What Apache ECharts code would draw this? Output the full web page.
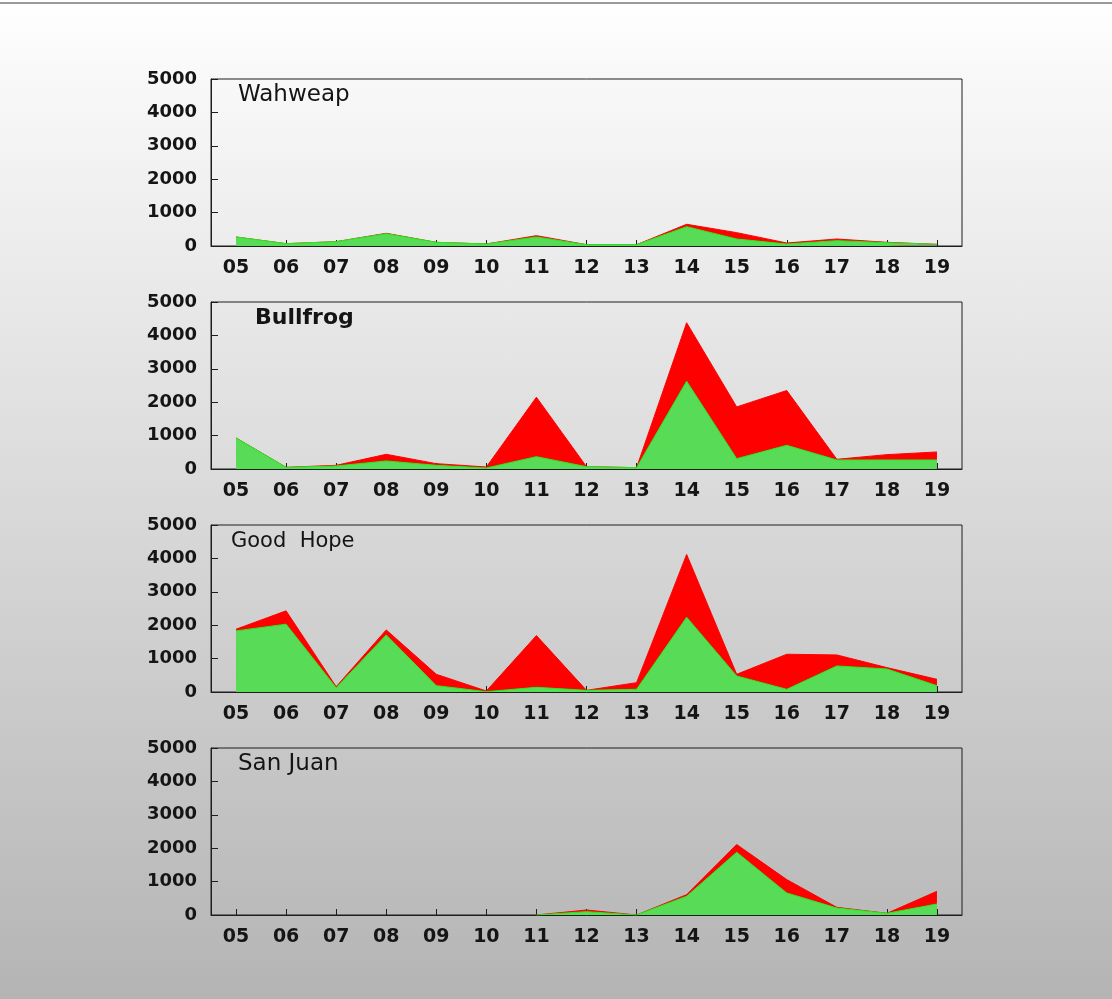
<!DOCTYPE html>
<html>
<head>
<meta charset="utf-8">
<script src="https://cdn.jsdelivr.net/npm/echarts@6/dist/echarts.min.js"></script>
<style>
  html, body { margin: 0; padding: 0; }
  body {
    width: 1112px; height: 999px; overflow: hidden;
    background: linear-gradient(to bottom, #ffffff 0px, #fbfbfb 40px, #e6e6e6 330px, #d2d2d2 600px, #b4b4b4 999px);
  }
  #topline { position: absolute; left: 0; top: 2px; width: 1112px; height: 2px; background: #9a9a9a; }
  #chart { position: absolute; left: 0; top: 0; width: 1112px; height: 999px; }
</style>
</head>
<body>
<div id="topline"></div>
<div id="chart"></div>
<script>
// ---- data ----
const categories = ['05','06','07','08','09','10','11','12','13','14','15','16','17','18','19'];
const yTicks = [0, 1000, 2000, 3000, 4000, 5000];
const panelNames = ['Wahweap', 'Bullfrog', 'Good  Hope', 'San Juan'];

// green = lower (green) area, total = top of red area
const wahweapGreen = [270, 70, 130, 370, 110, 60, 270, 40, 40, 580, 210, 60, 160, 100, 50];
const wahweapTotal = [270, 70, 130, 380, 110, 60, 310, 40, 40, 650, 400, 90, 210, 110, 50];

const bullfrogGreen = [930, 50, 90, 240, 110, 30, 370, 70, 40, 2630, 310, 710, 270, 270, 270];
const bullfrogTotal = [930, 50, 110, 440, 160, 60, 2150, 70, 40, 4380, 1860, 2350, 290, 430, 510];

const goodHopeGreen = [1830, 2030, 130, 1710, 190, 10, 140, 50, 80, 2240, 480, 80, 780, 690, 190];
const goodHopeTotal = [1880, 2430, 160, 1860, 530, 30, 1690, 50, 280, 4120, 530, 1130, 1110, 730, 380];

const sanJuanGreen = [null, null, null, null, null, null, 0, 100, 0, 560, 1880, 660, 210, 50, 330];
const sanJuanTotal = [null, null, null, null, null, null, 0, 150, 0, 610, 2110, 1060, 230, 50, 710];

const greens = [wahweapGreen, bullfrogGreen, goodHopeGreen, sanJuanGreen];
const totals = [wahweapTotal, bullfrogTotal, goodHopeTotal, sanJuanTotal];

// ---- layout / style ----
const gridTops = [79, 302, 525, 748];
const gridH = 167;
const titleStyles = [
  { left: 238, top: 84, fontWeight: 'normal', fontSize: 23 },
  { left: 255, top: 307, fontWeight: 'bold', fontSize: 22 },
  { left: 231, top: 531, fontWeight: 'normal', fontSize: 21 },
  { left: 238, top: 753, fontWeight: 'normal', fontSize: 23 }
];

const chart = echarts.init(document.getElementById('chart'), null, { renderer: 'canvas' });

const grids = [], xAxes = [], yAxes = [], series = [], titles = [];
for (let i = 0; i < 4; i++) {
  grids.push({
    left: 211, width: 751, top: gridTops[i], height: gridH,
    show: true, borderColor: '#1e1e1e', borderWidth: 1, backgroundColor: 'transparent'
  });
  xAxes.push({
    type: 'category', gridIndex: i, data: categories, boundaryGap: true,
    axisLine: { show: true, lineStyle: { color: '#1e1e1e', width: 1 } },
    axisTick: { show: true, inside: true, alignWithLabel: true, length: 6, lineStyle: { color: '#1e1e1e' } },
    axisLabel: { margin: 13, color: '#151515', fontFamily: 'DejaVu Sans', fontWeight: 'bold', fontSize: 19 },
    splitLine: { show: false }
  });
  yAxes.push({
    type: 'value', gridIndex: i, min: yTicks[0], max: yTicks[yTicks.length - 1], interval: 1000,
    axisLine: { show: true, lineStyle: { color: '#1e1e1e', width: 1 } },
    axisTick: { show: true, inside: true, length: 7, lineStyle: { color: '#1e1e1e' } },
    axisLabel: { margin: 14, color: '#151515', fontFamily: 'DejaVu Sans', fontWeight: 'bold', fontSize: 18,
      formatter: function (v) { return String(v); } },
    splitLine: { show: false }
  });
  titles.push({
    text: panelNames[i], left: titleStyles[i].left, top: titleStyles[i].top, padding: 0,
    textStyle: { fontFamily: 'DejaVu Sans', fontSize: titleStyles[i].fontSize, fontWeight: titleStyles[i].fontWeight, color: '#141414' }
  });
  series.push({
    type: 'line', name: panelNames[i] + ' total', xAxisIndex: i, yAxisIndex: i,
    data: totals[i], symbol: 'none', smooth: false, z: 2,
    lineStyle: { width: 1, color: '#ff0000' },
    areaStyle: { color: '#ff0000', opacity: 1 }
  });
  series.push({
    type: 'line', name: panelNames[i] + ' green', xAxisIndex: i, yAxisIndex: i,
    data: greens[i], symbol: 'none', smooth: false, z: 3,
    lineStyle: { width: 1, color: '#1ef01e' },
    areaStyle: { color: '#58dc58', opacity: 1 }
  });
}

chart.setOption({
  animation: false,
  backgroundColor: 'transparent',
  title: titles,
  grid: grids,
  xAxis: xAxes,
  yAxis: yAxes,
  series: series
});
</script>
</body>
</html>
